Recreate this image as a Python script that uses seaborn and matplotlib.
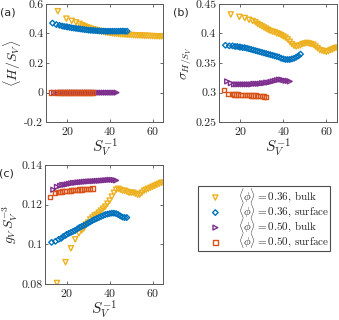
import pandas as pd
import seaborn as sns
import matplotlib.pyplot as plt

# S_V^-1 values for each series (shared by all three panels)
x_bulk36 = [15.5, 19.5, 22, 24, 25.7, 27, 28, 29, 30, 31, 32, 33, 34, 35, 36, 37, 38, 39, 40,
            41, 42, 43, 44, 45, 46, 47, 48, 49, 50, 51, 52, 53, 54, 55, 56, 57, 58, 59, 60,
            61, 62, 63, 64, 65]
x_surf36 = [13, 14.8, 16.3, 17.5, 18.5, 19.5, 20, 21, 22, 23, 24, 25, 26, 27, 28, 29, 30, 31,
            32, 33, 34, 35, 36, 37, 38, 39, 40, 41, 42, 43, 44, 45, 46, 47, 48]
x_bulk50 = [13.8, 15.5, 17, 18, 19, 20, 21, 22, 23, 24, 25, 26, 27, 28, 29, 30, 31, 32, 33,
            34, 35, 36, 37, 38, 39, 40, 41, 42, 43]
x_surf50 = [12.3, 14.5, 16, 17, 18, 19, 20, 21, 22, 23, 24, 25, 26, 27, 28, 29, 30, 31, 32]

# (a) mean H/S_V
a_bulk36 = [0.55, 0.50, 0.485, 0.475, 0.465, 0.455, 0.448, 0.442, 0.437, 0.432, 0.428, 0.424,
            0.42, 0.416, 0.413, 0.41, 0.407, 0.404, 0.402, 0.4, 0.398, 0.397, 0.395, 0.394,
            0.393, 0.392, 0.391, 0.39, 0.389, 0.388, 0.387, 0.386, 0.386, 0.385, 0.384, 0.384,
            0.383, 0.382, 0.382, 0.381, 0.381, 0.38, 0.38, 0.38]
a_surf36 = [0.47, 0.46, 0.455, 0.45, 0.447, 0.445, 0.444, 0.441, 0.438, 0.436, 0.434, 0.432,
            0.43, 0.428, 0.426, 0.424, 0.422, 0.421, 0.42, 0.419, 0.418, 0.417, 0.416, 0.416,
            0.415, 0.415, 0.415, 0.415, 0.415, 0.415, 0.415, 0.416, 0.416, 0.415, 0.415]
a_bulk50 = [0.0] * 29
a_surf50 = [0.0] * 19

# (b) std of H/S_V
b_bulk36 = [0.432, 0.428, 0.426, 0.423, 0.421, 0.419, 0.416, 0.414, 0.412, 0.41, 0.408, 0.406,
            0.404, 0.403, 0.402, 0.4, 0.399, 0.397, 0.395, 0.393, 0.39, 0.386, 0.382, 0.379,
            0.378, 0.379, 0.38, 0.382, 0.383, 0.384, 0.383, 0.382, 0.381, 0.378, 0.375, 0.372,
            0.371, 0.37, 0.369, 0.37, 0.372, 0.373, 0.375, 0.376]
b_surf36 = [0.38, 0.379, 0.379, 0.378, 0.378, 0.377, 0.377, 0.376, 0.376, 0.375, 0.374, 0.373,
            0.372, 0.371, 0.37, 0.369, 0.368, 0.367, 0.366, 0.365, 0.364, 0.363, 0.362, 0.361,
            0.36, 0.358, 0.357, 0.356, 0.356, 0.356, 0.357, 0.358, 0.36, 0.362, 0.365]
b_bulk50 = [0.319, 0.316, 0.314, 0.314, 0.314, 0.314, 0.314, 0.314, 0.314, 0.314, 0.314, 0.315,
            0.315, 0.315, 0.315, 0.316, 0.316, 0.317, 0.317, 0.318, 0.319, 0.32, 0.321, 0.322,
            0.322, 0.321, 0.32, 0.32, 0.319]
b_surf50 = [0.304, 0.298, 0.2975, 0.297, 0.297, 0.2968, 0.2965, 0.2963, 0.296, 0.296, 0.2958,
            0.2955, 0.2953, 0.295, 0.2948, 0.2945, 0.294, 0.2935, 0.293]

# (c) g_V S_V^-3
c_bulk36 = [0.0805, 0.091, 0.098, 0.1025, 0.1055, 0.107, 0.108, 0.11, 0.111, 0.1125, 0.1135,
            0.1145, 0.115, 0.116, 0.117, 0.118, 0.119, 0.1205, 0.122, 0.124, 0.126, 0.1275,
            0.128, 0.1275, 0.127, 0.127, 0.1265, 0.126, 0.126, 0.126, 0.1255, 0.125, 0.125,
            0.126, 0.127, 0.1275, 0.128, 0.1285, 0.129, 0.1295, 0.13, 0.1305, 0.131, 0.131]
c_surf36 = [0.101, 0.1015, 0.1025, 0.103, 0.104, 0.1045, 0.105, 0.1055, 0.106, 0.1065, 0.107,
            0.1078, 0.1085, 0.109, 0.1095, 0.11, 0.1107, 0.1113, 0.112, 0.1125, 0.113, 0.1135,
            0.114, 0.1145, 0.115, 0.1152, 0.1155, 0.1157, 0.1157, 0.1155, 0.115, 0.1143,
            0.1137, 0.1135, 0.1135]
c_bulk50 = [0.1275, 0.129, 0.1295, 0.13, 0.13, 0.1302, 0.1305, 0.1307, 0.131, 0.131, 0.1312,
            0.1313, 0.1314, 0.1315, 0.1316, 0.1317, 0.1318, 0.1318, 0.1319, 0.132, 0.132,
            0.1321, 0.1322, 0.1323, 0.1324, 0.1325, 0.1325, 0.1324, 0.1322]
c_surf50 = [0.1237, 0.126, 0.1263, 0.1265, 0.1267, 0.1268, 0.127, 0.127, 0.1272, 0.1273, 0.1274,
            0.1275, 0.1276, 0.1277, 0.1278, 0.1279, 0.128, 0.128, 0.1281]

labels = [r'$\langle\phi\rangle = 0.36$, bulk', r'$\langle\phi\rangle = 0.36$, surface',
          r'$\langle\phi\rangle = 0.50$, bulk', r'$\langle\phi\rangle = 0.50$, surface']
colors = ['#EDB120', '#0072BD', '#7E2F8E', '#D95319']
markers = ['v', 'D', '>', 's']
sizes = [14, 8, 12, 10]
xs = [x_bulk36, x_surf36, x_bulk50, x_surf50]

sns.set_style('ticks')
plt.rcParams['font.family'] = ['cmr10', 'DejaVu Serif']
plt.rcParams['mathtext.fontset'] = 'cm'
plt.rcParams['axes.unicode_minus'] = False
plt.rcParams['axes.formatter.use_mathtext'] = True
plt.rcParams['xtick.direction'] = 'in'
plt.rcParams['ytick.direction'] = 'in'

fig = plt.figure(figsize=(3.39, 3.2), dpi=100)
ax_a = fig.add_axes([0.136, 0.618, 0.346, 0.370])
ax_b = fig.add_axes([0.646, 0.618, 0.348, 0.370])
ax_c = fig.add_axes([0.133, 0.1125, 0.349, 0.372])

panels = [
    (ax_a, [a_bulk36, a_surf36, a_bulk50, a_surf50], (-0.2, 0.6), [-0.2, 0, 0.2, 0.4, 0.6],
     r'$\langle H/S_V\rangle$', '(a)'),
    (ax_b, [b_bulk36, b_surf36, b_bulk50, b_surf50], (0.25, 0.45),
     [0.25, 0.3, 0.35, 0.4, 0.45], r'$\sigma_{H/S_V}$', '(b)'),
    (ax_c, [c_bulk36, c_surf36, c_bulk50, c_surf50], (0.08, 0.14),
     [0.08, 0.1, 0.12, 0.14], r'$g_V\,S_V^{-3}$', '(c)'),
]

for ax, ys, ylim, yticks, ylabel, tag in panels:
    for x, y, col, m, s, lab in zip(xs, ys, colors, markers, sizes, labels):
        df = pd.DataFrame({'x': x, 'y': y})
        sns.scatterplot(data=df, x='x', y='y', ax=ax, marker=m, s=s, facecolor='none',
                        edgecolor=col, linewidth=1.0, label=lab, legend=False)
    ax.set_xlim(10, 65)
    ax.set_ylim(*ylim)
    ax.set_xticks([20, 40, 60])
    ax.set_yticks(yticks)
    ax.yaxis.set_major_formatter(plt.FormatStrFormatter('%g'))
    ax.tick_params(top=True, right=True, length=2.5, width=0.5, labelsize=8.5,
                   color='0.2', pad=2)
    for sp in ax.spines.values():
        sp.set_color('0.35')
        sp.set_linewidth(0.7)
    ax.set_xlabel(r'$S_V^{-1}$', fontsize=11, labelpad=0)
    ax.set_ylabel(ylabel, fontsize=10, labelpad=1)
    fig.text(ax.get_position().x0 - 0.135, ax.get_position().y1 - 0.035, tag,
             fontsize=8, family='DejaVu Sans')

handles = ax_a.collections[:4]
leg = fig.legend(handles, labels, loc='upper right', bbox_to_anchor=(0.974, 0.419),
                 fontsize=8, scatterpoints=1, fancybox=False, framealpha=1,
                 edgecolor='0.3', handletextpad=0.55, borderpad=0.05, labelspacing=-0.34,
                 handlelength=3.0, borderaxespad=0)
leg.get_frame().set_linewidth(0.8)

fig.savefig('out.png', dpi=100)
